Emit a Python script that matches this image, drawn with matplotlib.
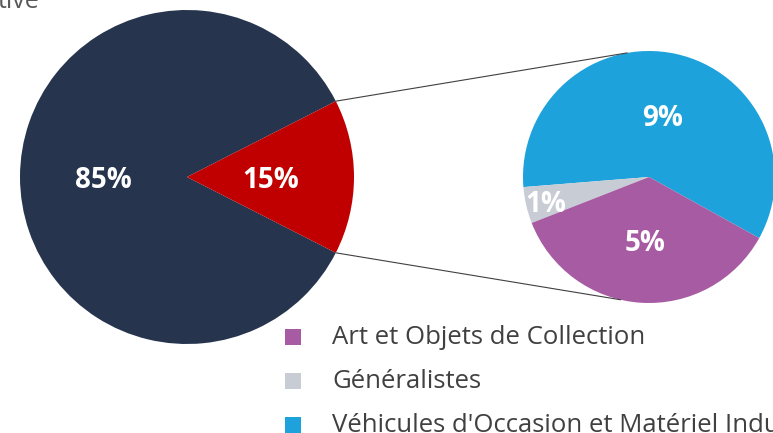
import numpy as np
import matplotlib
matplotlib.use("Agg")
import matplotlib.pyplot as plt
from matplotlib.patches import ConnectionPatch, Rectangle

# main split
main_values = [85, 15]
main_colors = ["#26344E", "#C00000"]

# breakdown of the 15% slice
sub_labels = ["Véhicules d'Occasion et Matériel Industriel", "Généralistes", "Art et Objets de Collection"]
sub_values = [8.9, 0.7, 5.4]
sub_colors = ["#1EA2DB", "#C8CCD4", "#A75BA2"]
legend_order = [2, 1, 0]

W, H = 773, 433
fig = plt.figure(figsize=(W / 100, H / 100), dpi=100)


def px_axes(cx, cy, r):
    # square axes from pixel centre/radius (y measured from top)
    return fig.add_axes([(cx - r) / W, (H - cy - r) / H, 2 * r / W, 2 * r / H])


label_font = dict(color="white", fontsize=20, fontweight="bold", family="Open Sans")

# big pie
ax1 = px_axes(187, 177, 167)
w1, _ = ax1.pie(main_values, colors=main_colors, startangle=27, counterclock=True,
                radius=1, wedgeprops=dict(linewidth=0))
for w, v in zip(w1, main_values):
    a = np.deg2rad((w.theta1 + w.theta2) / 2)
    ax1.text(0.5 * np.cos(a), 0.5 * np.sin(a), f"{v}%", ha="center", va="center_baseline", **label_font)
ax1.set_xlim(-1, 1)
ax1.set_ylim(-1, 1)
ax1.axis("off")

# small pie
ax2 = px_axes(649, 177, 126)
w2, _ = ax2.pie(sub_values, colors=sub_colors, startangle=-29, counterclock=True,
                radius=1, wedgeprops=dict(linewidth=0))
for w, v in zip(w2, sub_values):
    a = np.deg2rad((w.theta1 + w.theta2) / 2)
    d = 0.84 if v < 2 else 0.5
    ax2.text(d * np.cos(a), d * np.sin(a), f"{v:.0f}%", ha="center", va="center_baseline", **label_font)
ax2.set_xlim(-1, 1)
ax2.set_ylim(-1, 1)
ax2.axis("off")

# connector lines from the red wedge to the breakdown pie
red = w1[1]
for th_big, th_small in [(red.theta2, 100), (red.theta1, 257)]:
    p1 = (np.cos(np.deg2rad(th_big)), np.sin(np.deg2rad(th_big)))
    p2 = (np.cos(np.deg2rad(th_small)), np.sin(np.deg2rad(th_small)))
    con = ConnectionPatch(xyA=p1, coordsA=ax1.transData, xyB=p2, coordsB=ax2.transData,
                          color="#404040", linewidth=0.8)
    fig.add_artist(con)

# legend
for row, i in enumerate(legend_order):
    yc = 337 + row * 44
    fig.add_artist(Rectangle(((293 - 8) / W, (H - yc - 8) / H), 16 / W, 16 / H,
                             transform=fig.transFigure, facecolor=sub_colors[i], edgecolor="none"))
    fig.text(332 / W, (H - yc) / H, sub_labels[i], ha="left", va="center",
             fontsize=18.5, color="#404040", family="Open Sans")

# clipped title fragment
fig.text(-2 / W, (H - 8) / H, "tive", ha="left", va="baseline", fontsize=18,
         color="#595959", family="Open Sans")

fig.savefig("out.png", dpi=100)
